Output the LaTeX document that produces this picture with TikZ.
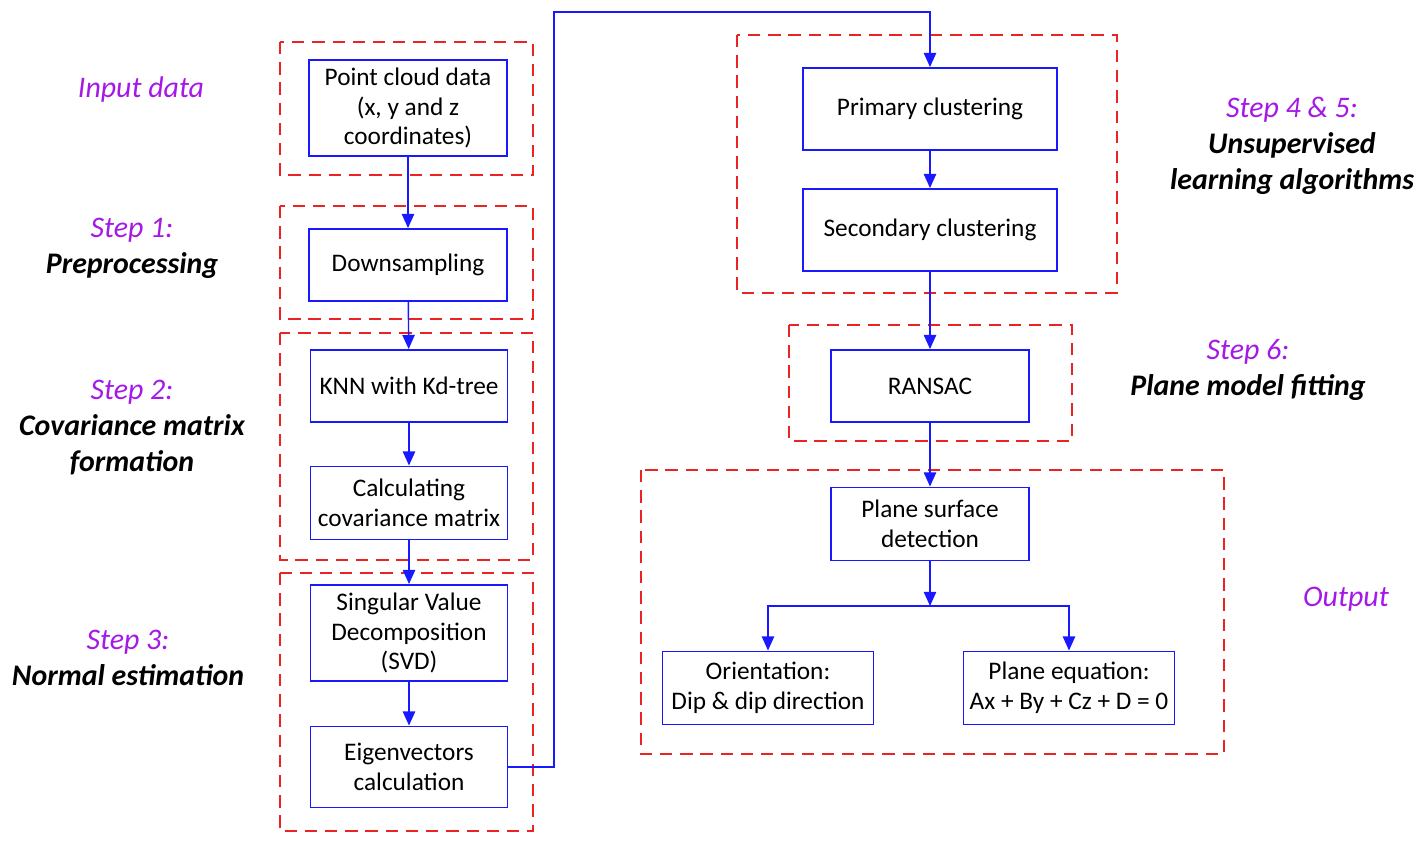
\documentclass[tikz,border=0pt]{standalone}
\usepackage{fontspec}
\setmainfont{Carlito}
\usetikzlibrary{arrows.meta}

\definecolor{stepviolet}{RGB}{165,25,230}
\definecolor{boxblue}{RGB}{25,25,255}
\definecolor{groupred}{RGB}{235,35,35}

\tikzset{
  procbox/.style={draw=boxblue, line width=1.1pt, align=center, inner sep=0pt,
    font=\fontsize{14.4}{17}\selectfont},
  groupbox/.style={draw=groupred, line width=1.3pt, dash pattern=on 7pt off 4.5pt},
  flow/.style={draw=boxblue, line width=0.8pt, -{Triangle[length=8pt,width=7pt]}},
  steptext/.style={align=center, font=\fontsize{17}{20.5}\selectfont\itshape},
}

\begin{document}
\begin{tikzpicture}[x=0.02cm, y=-0.02cm]
  \useasboundingbox (0,0) rectangle (1428,846);

  % Group frames
  \draw[groupbox] (280,42) rectangle (533,175);
  \draw[groupbox] (280,206) rectangle (533,319);
  \draw[groupbox] (280,333) rectangle (533,560);
  \draw[groupbox] (280,573) rectangle (533,831);
  \draw[groupbox] (737,35) rectangle (1117,293);
  \draw[groupbox] (789,325) rectangle (1072,441);
  \draw[groupbox] (641,470) rectangle (1224,754);

  % Left column
  \node[procbox, minimum width=3.96cm, minimum height=1.92cm] (pcd) at (408,108)
    {Point cloud data\\(x, y and z\\coordinates)};
  \node[procbox, minimum width=3.96cm, minimum height=1.44cm] (down) at (408,265) {Downsampling};
  \node[procbox, minimum width=3.94cm, minimum height=1.44cm] (knn) at (409,386) {KNN with Kd-tree};
  \node[procbox, minimum width=3.94cm, minimum height=1.46cm] (calc) at (409,503)
    {Calculating\\covariance matrix};
  \node[procbox, minimum width=3.94cm, minimum height=1.92cm] (svd) at (409,633)
    {Singular Value\\Decomposition\\(SVD)};
  \node[procbox, minimum width=3.94cm, minimum height=1.62cm] (eig) at (409,767)
    {Eigenvectors\\calculation};

  % Right column
  \node[procbox, minimum width=5.08cm, minimum height=1.64cm] (prim) at (930,109) {Primary clustering};
  \node[procbox, minimum width=5.08cm, minimum height=1.64cm] (sec) at (930,230) {Secondary clustering};
  \node[procbox, minimum width=3.96cm, minimum height=1.44cm] (ransac) at (930,386) {RANSAC};
  \node[procbox, minimum width=3.96cm, minimum height=1.46cm] (psd) at (930,524)
    {Plane surface\\detection};
  \node[procbox, minimum width=4.22cm, minimum height=1.46cm] (orient) at (768,688)
    {Orientation:\\Dip \& dip direction};
  \node[procbox, minimum width=4.22cm, minimum height=1.46cm] (eq) at (1069,688)
    {Plane equation:\\Ax + By + Cz + D = 0};

  % Step labels
  \node[steptext, text=stepviolet] (lin) at (141,90) {Input data};
  \node[steptext] (l1) at (132,248) {{\color{stepviolet}Step 1:}\\\textbf{Preprocessing}};
  \node[steptext] (l2) at (132,428) {{\color{stepviolet}Step 2:}\\\textbf{Covariance matrix}\\\textbf{formation}};
  \node[steptext] (l3) at (128,658) {{\color{stepviolet}Step 3:}\\\textbf{Normal estimation}};
  \node[steptext] (l45) at (1292,146) {{\color{stepviolet}Step 4 \& 5:}\\\textbf{Unsupervised}\\\textbf{learning algorithms}};
  \node[steptext] (l6) at (1248,370) {{\color{stepviolet}Step 6:}\\\textbf{Plane model fitting}};
  \node[steptext, text=stepviolet] (lout) at (1346,599) {Output};

  % Connectors
  \coordinate (loop) at (554,12);
  \coordinate (split) at (930,606);
  \draw[flow] (pcd) -- (down);
  \draw[flow] (down) -- (knn);
  \draw[flow] (knn) -- (calc);
  \draw[flow] (calc) -- (svd);
  \draw[flow] (svd) -- (eig);
  \draw[flow] (eig.east) -| (loop) -| (prim.north);
  \draw[flow] (prim) -- (sec);
  \draw[flow] (sec) -- (ransac);
  \draw[flow] (ransac) -- (psd);
  \draw[flow] (psd) -- (split);
  \draw[flow] (split) -| (orient.north);
  \draw[flow] (split) -| (eq.north);
\end{tikzpicture}
\end{document}
